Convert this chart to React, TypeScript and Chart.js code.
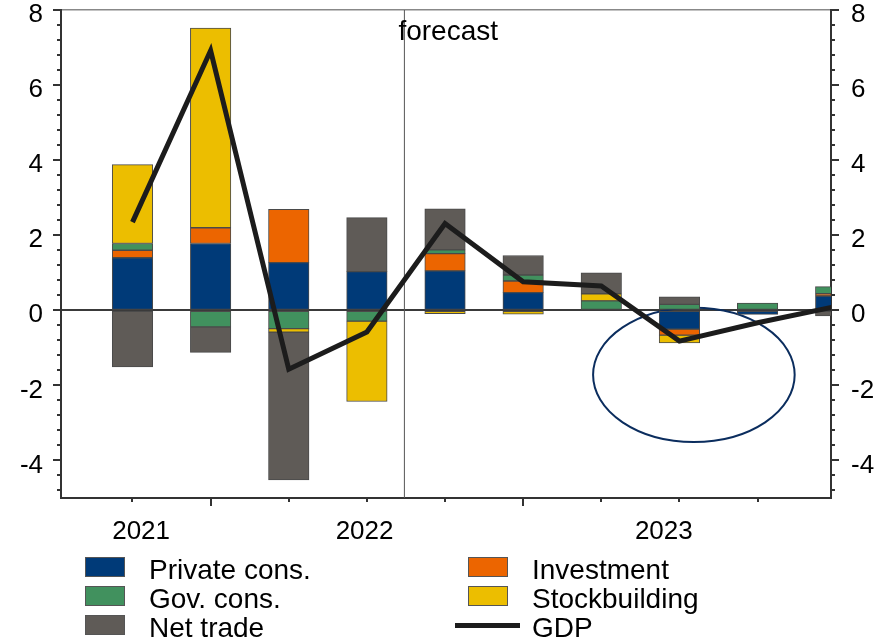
import React, { useEffect, useRef } from 'react';
import { Chart, registerables } from 'chart.js';

Chart.register(...registerables);

// ---- data ----
const quarters = ['2021Q1', '2021Q2', '2021Q3', '2021Q4', '2022Q1', '2022Q2', '2022Q3', '2022Q4', '2023Q1', '2023Q2'];
const privateCons = [1.40, 1.78, 1.27, 1.03, 1.05, 0.47, 0, -0.50, -0.11, 0.38];
const investment = [0.20, 0.42, 1.42, 0, 0.46, 0.31, 0, -0.16, 0, 0.06];
const govCons = [0.18, -0.44, -0.49, -0.29, 0.10, 0.16, 0.25, 0.16, 0.19, 0.19];
const stockbuilding = [2.10, 5.32, -0.09, -2.14, -0.09, -0.10, 0.19, -0.21, 0, 0];
const netTrade = [-1.51, -0.68, -3.94, 1.44, 1.09, 0.52, 0.56, 0.20, 0, -0.15];
const gdp = [2.35, 6.92, -1.57, -0.58, 2.31, 0.76, 0.65, -0.82, -0.33, 0.10];

const yTickValues = [-4, -2, 0, 2, 4, 6, 8];
const yMinorStep = 0.4;
const xMinorTicks = [0, 1, 2, 3, 4, 5, 6, 7, 8];
const xMajorTicks = [1, 5];
const yearLabels = ['2021', '2022', '2023'];
const yearLabelPositions = [0.11, 2.97, 6.8];
const forecastStart = 3.48;
const forecastLabel = 'forecast';
const ellipseCenterX = 7.185;
const ellipseCenterY = -1.72;
const ellipseRadiusX = 1.29;
const ellipseRadiusY = 1.79;

const COLORS = {
  private: '#003a78',
  invest: '#ec6500',
  gov: '#41915e',
  stock: '#ecbe00',
  net: '#5f5b57',
  gdp: '#1c1c1c',
};

const FONT = "'Liberation Sans', Arial, sans-serif";

const toPoints = (arr: number[]) => arr.map((v, i) => ({ x: i, y: v === 0 ? null : v }));

const decorPlugin = {
  id: 'decor',
  beforeDatasetsDraw(chart: any) {
    const { ctx, chartArea, scales } = chart;
    const x = scales.x;
    const y = scales.y;
    ctx.save();
    // forecast line
    const fx = x.getPixelForValue(forecastStart);
    ctx.strokeStyle = '#555555';
    ctx.lineWidth = 1;
    ctx.beginPath();
    ctx.moveTo(fx, chartArea.top);
    ctx.lineTo(fx, chartArea.bottom);
    ctx.stroke();
    // ellipse
    const cx = x.getPixelForValue(ellipseCenterX);
    const cy = y.getPixelForValue(ellipseCenterY);
    const rx = Math.abs(x.getPixelForValue(ellipseCenterX + ellipseRadiusX) - cx);
    const ry = Math.abs(y.getPixelForValue(ellipseCenterY + ellipseRadiusY) - cy);
    ctx.strokeStyle = '#0b2d5e';
    ctx.lineWidth = 2;
    ctx.beginPath();
    ctx.ellipse(cx, cy, rx, ry, 0, 0, Math.PI * 2);
    ctx.stroke();
    ctx.restore();
  },
  afterDraw(chart: any) {
    const { ctx, chartArea, scales } = chart;
    const x = scales.x;
    const y = scales.y;
    ctx.save();
    ctx.strokeStyle = '#333333';
    ctx.lineWidth = 2;
    // y ticks (both sides)
    const yMax = y.max;
    for (let k = 0; ; k++) {
      const v = yMax - k * yMinorStep;
      if (v < y.min) break;
      const isMajor = yTickValues.some((t) => Math.abs(t - v) < 1e-6);
      const len = isMajor ? 8 : 4;
      const py = Math.round(y.getPixelForValue(v));
      ctx.beginPath();
      ctx.moveTo(chartArea.left, py);
      ctx.lineTo(chartArea.left - len, py);
      ctx.moveTo(chartArea.right, py);
      ctx.lineTo(chartArea.right + len, py);
      ctx.stroke();
    }
    // x ticks
    xMinorTicks.forEach((v) => {
      const len = xMajorTicks.includes(v) ? 8 : 4;
      const px = Math.round(x.getPixelForValue(v));
      ctx.beginPath();
      ctx.moveTo(px, chartArea.bottom);
      ctx.lineTo(px, chartArea.bottom + len);
      ctx.stroke();
    });
    // forecast label
    const fx = x.getPixelForValue(forecastStart);
    ctx.fillStyle = '#000000';
    ctx.font = `28px ${FONT}`;
    ctx.textBaseline = 'middle';
    ctx.textAlign = 'left';
    ctx.fillText(forecastLabel, fx - 6, chartArea.top + 22);
    ctx.restore();
  },
};

const legendItems = [
  { label: 'Private cons.', color: COLORS.private, col: 0, row: 0 },
  { label: 'Gov. cons.', color: COLORS.gov, col: 0, row: 1 },
  { label: 'Net trade', color: COLORS.net, col: 0, row: 2 },
  { label: 'Investment', color: COLORS.invest, col: 1, row: 0 },
  { label: 'Stockbuilding', color: COLORS.stock, col: 1, row: 1 },
  { label: 'GDP', color: COLORS.gdp, col: 1, row: 2, line: true },
];

export default function App() {
  const canvasRef = useRef<HTMLCanvasElement>(null);

  useEffect(() => {
    const canvas = canvasRef.current;
    if (!canvas) return;
    const barCommon = {
      type: 'bar' as const,
      borderColor: '#4a4a4a',
      borderWidth: 1,
      borderSkipped: false,
      barThickness: 40.5,
      stack: 'main',
      order: 1,
    };
    const chart = new Chart(canvas, {
      type: 'bar',
      data: {
        labels: quarters,
        datasets: [
          { ...barCommon, label: 'Private cons.', data: toPoints(privateCons), backgroundColor: COLORS.private },
          { ...barCommon, label: 'Investment', data: toPoints(investment), backgroundColor: COLORS.invest },
          { ...barCommon, label: 'Gov. cons.', data: toPoints(govCons), backgroundColor: COLORS.gov },
          { ...barCommon, label: 'Stockbuilding', data: toPoints(stockbuilding), backgroundColor: COLORS.stock },
          { ...barCommon, label: 'Net trade', data: toPoints(netTrade), backgroundColor: COLORS.net },
          {
            type: 'line',
            label: 'GDP',
            data: gdp.map((v, i) => ({ x: i, y: v })),
            borderColor: COLORS.gdp,
            borderWidth: 5,
            pointRadius: 0,
            tension: 0,
            stack: 'gdp',
            order: 0,
            borderJoinStyle: 'miter',
          } as any,
        ],
      },
      options: {
        responsive: false,
        animation: false,
        devicePixelRatio: 1,
        layout: { padding: { top: 10, left: 0, right: 0, bottom: 0 } },
        plugins: {
          legend: { display: false },
          tooltip: { enabled: false },
        },
        scales: {
          x: {
            type: 'linear',
            position: 'bottom',
            min: -0.915,
            max: 8.94,
            stacked: true,
            offset: false,
            grid: { display: false, drawTicks: false },
            border: { display: true, color: '#333333', width: 2 },
            afterBuildTicks: (scale: any) => {
              scale.ticks = yearLabelPositions.map((v) => ({ value: v }));
            },
            ticks: {
              autoSkip: false,
              maxRotation: 0,
              padding: 18,
              color: '#000000',
              font: { family: FONT, size: 26 },
              callback: (_v: any, i: number) => yearLabels[i],
            },
            afterFit: (scale: any) => {
              scale.height = 142;
              scale.paddingLeft = 0;
              scale.paddingRight = 0;
            },
          },
          y: {
            type: 'linear',
            position: 'left',
            min: -5,
            max: 8,
            stacked: true,
            afterBuildTicks: (scale: any) => {
              scale.ticks = yTickValues.map((v) => ({ value: v }));
            },
            grid: {
              drawTicks: false,
              color: (c: any) => (c.tick && c.tick.value === 0 ? '#3a3a3a' : c.tick && c.tick.value === 8 ? '#888888' : 'rgba(0,0,0,0)'),
              lineWidth: (c: any) => (c.tick && c.tick.value === 0 ? 2 : 1.5),
            },
            border: { display: true, color: '#333333', width: 2 },
            ticks: {
              padding: 18,
              labelOffset: 5,
              color: '#000000',
              font: { family: FONT, size: 26 },
              callback: (v: any) => String(v),
            },
            afterFit: (scale: any) => {
              scale.width = 61;
              scale.paddingTop = 0;
              scale.paddingBottom = 0;
            },
          },
          y2: {
            type: 'linear',
            position: 'right',
            min: -5,
            max: 8,
            afterBuildTicks: (scale: any) => {
              scale.ticks = yTickValues.map((v) => ({ value: v }));
            },
            grid: { display: false, drawTicks: false },
            border: { display: true, color: '#333333', width: 2 },
            ticks: {
              padding: 20,
              labelOffset: 5,
              color: '#000000',
              font: { family: FONT, size: 26 },
              callback: (v: any) => String(v),
            },
            afterFit: (scale: any) => {
              scale.width = 48;
              scale.paddingTop = 0;
              scale.paddingBottom = 0;
            },
          },
        },
      } as any,
      plugins: [decorPlugin],
    });
    return () => chart.destroy();
  }, []);

  return (
    <div style={{ position: 'absolute', left: 0, top: 0, width: 879, height: 640, background: '#ffffff', overflow: 'hidden', fontFamily: FONT }}>
      <canvas ref={canvasRef} width={879} height={640} style={{ display: 'block', width: 879, height: 640 }} />
      {legendItems.map((it) => {
        const boxLeft = it.col === 0 ? 85 : 468;
        const textLeft = it.col === 0 ? 149 : 532;
        const rowCenter = 567 + it.row * 29;
        return (
          <React.Fragment key={it.label}>
            {it.line ? (
              <div style={{ position: 'absolute', left: 455, top: rowCenter - 2.5, width: 65, height: 5, background: it.color }} />
            ) : (
              <div style={{ position: 'absolute', left: boxLeft, top: rowCenter - 10, width: 40, height: 20, background: it.color, border: '1px solid #555555', boxSizing: 'border-box' }} />
            )}
            <div style={{ position: 'absolute', left: textLeft, top: rowCenter - 12, height: 30, lineHeight: '30px', fontSize: 28, color: '#000000', whiteSpace: 'nowrap' }}>
              {it.label}
            </div>
          </React.Fragment>
        );
      })}
    </div>
  );
}
